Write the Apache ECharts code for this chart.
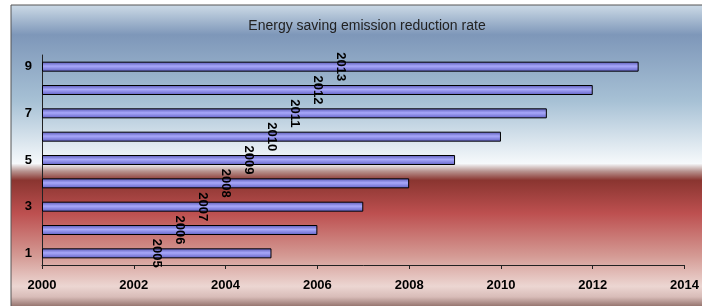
<!DOCTYPE html>
<html>
<head>
<meta charset="utf-8">
<script src="https://cdn.jsdelivr.net/npm/echarts@6/dist/echarts.min.js"></script>
<style>
  html, body { margin: 0; padding: 0; background: #fff; }
  #chart { width: 702px; height: 306px; }
</style>
</head>
<body>
<div id="chart"></div>
<script>
// data
var categories = ['1', '2', '3', '4', '5', '6', '7', '8', '9'];
var years = [2005, 2006, 2007, 2008, 2009, 2010, 2011, 2012, 2013];
var axisStart = 2000;
var xTicks = [2000, 2002, 2004, 2006, 2008, 2010, 2012, 2014];

var baseData = years.map(function () { return axisStart; });
var spanData = years.map(function (y) { return y - axisStart; });

var chart = echarts.init(document.getElementById('chart'));
var option = {
  animation: false,
  graphic: [{
    type: 'rect',
    z: -10,
    silent: true,
    shape: { x: 11, y: 5, width: 700, height: 302 },
    style: {
      stroke: '#555',
      lineWidth: 1,
      fill: new echarts.graphic.LinearGradient(0, 0, 0, 1, [
        { offset: 0, color: '#cddbe7' },
        { offset: 0.1, color: '#7e97b9' },
        { offset: 0.32, color: '#a7c1d5' },
        { offset: 0.48, color: '#e5edf3' },
        { offset: 0.525, color: '#f6f9fb' },
        { offset: 0.55, color: '#b89490' },
        { offset: 0.58, color: '#8a3530' },
        { offset: 0.69, color: '#bd5050' },
        { offset: 0.83, color: '#d49a94' },
        { offset: 0.93, color: '#ecd6d2' },
        { offset: 0.965, color: '#d8bcb8' },
        { offset: 1, color: '#8c6a64' }
      ])
    }
  }],
  title: {
    text: 'Energy saving emission reduction rate',
    left: 362,
    textAlign: 'center',
    top: 14,
    textStyle: { fontFamily: 'Liberation Sans, Arial', fontSize: 14, fontWeight: 'normal', color: '#222' }
  },
  grid: { left: 42, right: 16, top: 55, bottom: 41, containLabel: false },
  xAxis: {
    type: 'value',
    min: 2000,
    max: 2014,
    interval: 2,
    splitLine: { show: false },
    axisLine: { show: true, lineStyle: { color: '#222', width: 1 } },
    axisTick: { show: true, length: 4, lineStyle: { color: '#222' } },
    axisLabel: {
      margin: 14,
      color: '#000',
      fontFamily: 'Liberation Sans, Arial',
      fontWeight: 'bold',
      fontSize: 13,
      formatter: function (v) { return xTicks.indexOf(v) >= 0 ? String(v) : ''; }
    }
  },
  yAxis: {
    type: 'category',
    data: categories,
    axisLine: { show: true, lineStyle: { color: '#222', width: 1 } },
    axisTick: { show: false },
    axisLabel: {
      interval: 1,
      margin: 10,
      color: '#000',
      fontFamily: 'Liberation Sans, Arial',
      fontWeight: 'bold',
      fontSize: 13
    }
  },
  series: [{
    type: 'bar',
    stack: 'y',
    data: baseData,
    barWidth: 10,
    silent: true,
    itemStyle: { color: 'rgba(0,0,0,0)' }
  }, {
    type: 'bar',
    stack: 'y',
    data: spanData,
    barWidth: 10,
    itemStyle: {
      borderColor: '#000',
      borderWidth: 1,
      color: new echarts.graphic.LinearGradient(0, 0, 0, 1, [
        { offset: 0, color: '#5656b4' },
        { offset: 0.45, color: '#a8a8fa' },
        { offset: 1, color: '#6060c4' }
      ])
    },
    label: {
      show: true,
      position: 'inside',
      rotate: -90,
      color: '#000',
      fontFamily: 'Liberation Sans, Arial',
      fontWeight: 'bold',
      fontSize: 13,
      formatter: function (p) { return String(years[p.dataIndex]); }
    }
  }]
};
chart.setOption(option);
</script>
</body>
</html>
